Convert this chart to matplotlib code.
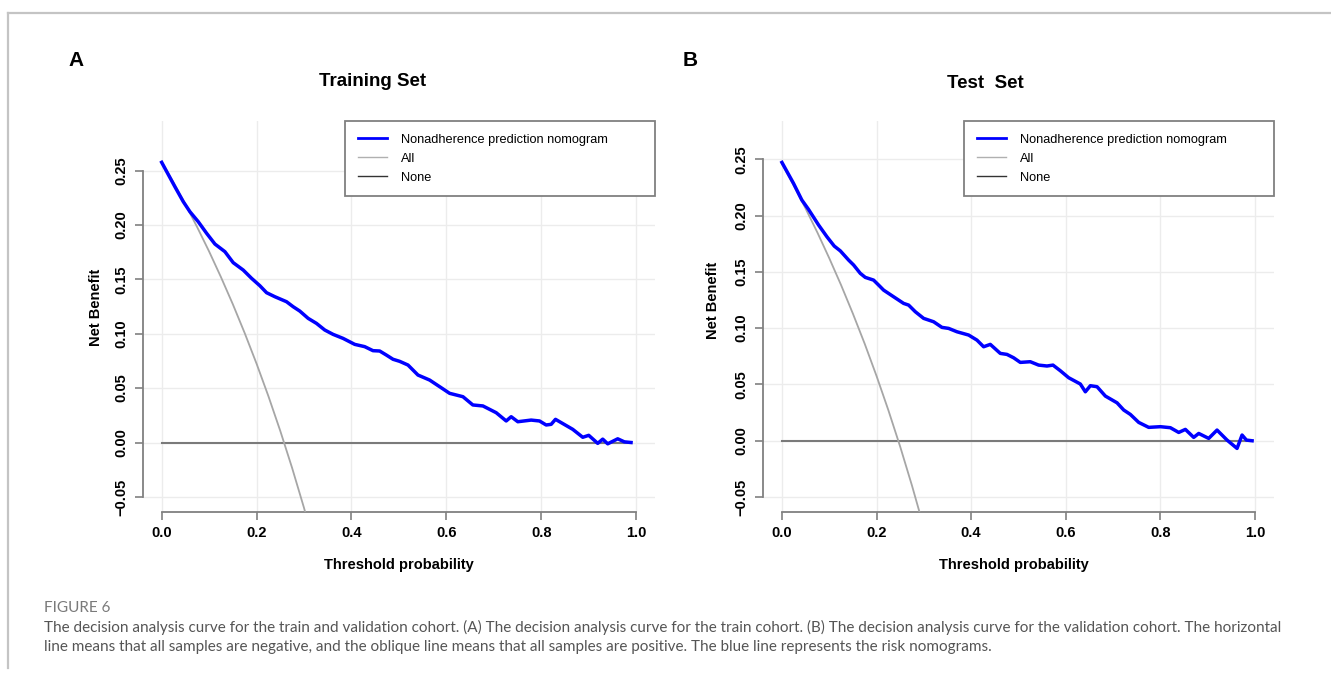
import matplotlib
matplotlib.use('Agg')
import matplotlib.pyplot as plt
from matplotlib.lines import Line2D
import numpy as np

# ---------------- data ----------------
x_ticks = [0.0, 0.2, 0.4, 0.6, 0.8, 1.0]
y_ticks = [-0.05, 0.00, 0.05, 0.10, 0.15, 0.20, 0.25]

all_x = [0.0, 0.025, 0.05, 0.075, 0.1, 0.125, 0.15, 0.175, 0.2, 0.225,
         0.25, 0.275, 0.3, 0.325]
train_all = [0.258, 0.2390, 0.2190, 0.1978, 0.1756, 0.1520, 0.1271, 0.1006,
             0.0725, 0.0426, 0.0107, -0.0234, -0.0600, -0.0993]
test_all = [0.246, 0.2267, 0.2063, 0.1849, 0.1622, 0.1383, 0.1129, 0.0861,
            0.0575, 0.0271, -0.0053, -0.0400, -0.0771, -0.1170]

none_x = [0.0, 0.99]
none_nb = [0.0, 0.0]

train_x = [0.0, 0.028, 0.0456, 0.0596, 0.077, 0.0947, 0.1123, 0.1333, 0.1508,
           0.1719, 0.1895, 0.207, 0.2211, 0.2386, 0.2632, 0.2772, 0.2912,
           0.3088, 0.3263, 0.3438, 0.3613, 0.3824, 0.407, 0.428, 0.4455,
           0.4596, 0.4736, 0.4877, 0.5017, 0.5193, 0.5403, 0.5649, 0.586,
           0.607, 0.6351, 0.656, 0.6772, 0.7052, 0.7263, 0.7368, 0.7508,
           0.7789, 0.7965, 0.8105, 0.8211, 0.8302, 0.8666, 0.8877, 0.9003,
           0.9193, 0.9298, 0.9403, 0.9614, 0.9754, 0.9895]
train_nb = [0.2575, 0.235, 0.2213, 0.2121, 0.203, 0.1923, 0.1824, 0.1754,
            0.1653, 0.1585, 0.1509, 0.1441, 0.1377, 0.134, 0.1294, 0.1248,
            0.1208, 0.1141, 0.1095, 0.1034, 0.0994, 0.0957, 0.0902, 0.0881,
            0.0844, 0.0841, 0.0804, 0.0765, 0.0746, 0.0712, 0.062, 0.0574,
            0.0513, 0.0452, 0.0421, 0.0345, 0.0336, 0.0274, 0.0198, 0.0237,
            0.0191, 0.0206, 0.0198, 0.0161, 0.0167, 0.0213, 0.0121, 0.0048,
            0.0066, -0.0008, 0.0031, -0.0012, 0.0034, 0.0006, 0.0]

test_x = [0.0, 0.0245, 0.0421, 0.0562, 0.0775, 0.0951, 0.1106, 0.1233,
          0.1409, 0.1515, 0.1656, 0.1762, 0.1937, 0.2043, 0.2149, 0.236,
          0.2572, 0.2678, 0.2819, 0.2995, 0.3206, 0.3382, 0.3523, 0.37,
          0.3946, 0.4122, 0.4263, 0.4404, 0.4615, 0.4756, 0.4897, 0.5038,
          0.5249, 0.5426, 0.5602, 0.5729, 0.5884, 0.606, 0.6307, 0.6413,
          0.6519, 0.666, 0.6836, 0.7083, 0.7224, 0.7364, 0.7541, 0.7752,
          0.7999, 0.821, 0.8386, 0.8527, 0.8703, 0.8809, 0.902, 0.9196,
          0.9408, 0.9619, 0.9725, 0.9817, 0.9937]
test_nb = [0.2472, 0.2286, 0.2138, 0.2055, 0.1916, 0.1812, 0.1729, 0.1687,
           0.1605, 0.1561, 0.1487, 0.1451, 0.1427, 0.1383, 0.1338, 0.1279,
           0.122, 0.1205, 0.1146, 0.1087, 0.1057, 0.1007, 0.0998, 0.0968,
           0.0939, 0.0894, 0.0835, 0.0856, 0.0776, 0.0767, 0.0737, 0.0696,
           0.0702, 0.0672, 0.0664, 0.0672, 0.0622, 0.056, 0.0504, 0.0435,
           0.0489, 0.048, 0.0397, 0.0337, 0.0273, 0.0234, 0.0163, 0.0119,
           0.0125, 0.0116, 0.0074, 0.0101, 0.003, 0.0065, 0.0021, 0.0095,
           0.0006, -0.0068, 0.0051, 0.0006, 0.0]

legend_labels = ['Nonadherence prediction nomogram', 'All', 'None']
panel_titles = ['Training Set', 'Test  Set']
panel_letters = ['A', 'B']
x_label = 'Threshold probability'
y_label = 'Net Benefit'
caption_head = 'FIGURE 6'
caption_lines = [
    'The decision analysis curve for the train and validation cohort. (A) The decision analysis curve for the train cohort. '
    '(B) The decision analysis curve for the validation cohort. The horizontal',
    'line means that all samples are negative, and the oblique line means that all samples are positive. '
    'The blue line represents the risk nomograms.',
]

# ---------------- figure ----------------
W, H = 1331, 677
fig = plt.figure(figsize=(W / 100, H / 100), dpi=100)
fig.patch.set_facecolor('white')

BOLD = dict(family='Liberation Sans', weight='bold')


def px_rect(l, t, r, b):
    return [l / W, 1 - b / H, (r - l) / W, (b - t) / H]


def fx(x):
    return x / W


def fy(y):
    return 1 - y / H


panels = [
    dict(rect=(142.7, 121, 655, 511.7), ylim=(-0.0636, 0.2955), x=train_x, nb=train_nb,
         all_nb=train_all, title=(373, 82), letter=(76, 61), ylab=(96, 307), xlab=(399, 565)),
    dict(rect=(763, 121, 1274, 511.7), ylim=(-0.0630, 0.2840), x=test_x, nb=test_nb,
         all_nb=test_all, title=(985, 83), letter=(690, 61), ylab=(713, 300), xlab=(1014, 565)),
]

AX_GRAY = '#808080'

for i, p in enumerate(panels):
    ax = fig.add_axes(px_rect(*p['rect']))
    ax.set_xlim(-0.04, 1.04)
    ax.set_ylim(*p['ylim'])
    ax.set_xticks(x_ticks)
    ax.set_yticks(y_ticks)
    ax.set_xticklabels([f'{v:.1f}' for v in x_ticks])
    ax.set_yticklabels([f'{v:.2f}'.replace('-', '\u2212') for v in y_ticks])
    ax.grid(True, color='#ececec', lw=1.0)
    ax.set_axisbelow(True)
    for s in ['top', 'right']:
        ax.spines[s].set_visible(False)
    for s in ['left', 'bottom']:
        ax.spines[s].set_color(AX_GRAY)
        ax.spines[s].set_linewidth(1.3)
    ax.spines['left'].set_bounds(y_ticks[0], y_ticks[-1])
    ax.spines['bottom'].set_bounds(x_ticks[0], x_ticks[-1])
    ax.tick_params(direction='out', length=5.5, width=1.2, color=AX_GRAY,
                   labelsize=10.5, labelcolor='black')
    ax.tick_params(axis='x', pad=5)
    ax.tick_params(axis='y', pad=5, labelrotation=90)
    for lab in ax.get_yticklabels():
        lab.set_fontfamily('Liberation Sans')
        lab.set_fontweight('bold')
        lab.set_va('center')
    for lab in ax.get_xticklabels():
        lab.set_fontfamily('Liberation Sans')
        lab.set_fontweight('bold')

    ax.plot(none_x, none_nb, color='#7a7a7a', lw=1.5, zorder=2)
    ax.plot(all_x, p['all_nb'], color='#a6a6a6', lw=1.3, zorder=3)
    ax.plot(p['x'], p['nb'], color='#0000ff', lw=2.5, zorder=4, solid_joinstyle='round')

    handles = [Line2D([], [], color='#0000ff', lw=2.0),
               Line2D([], [], color='#b0b0b0', lw=1.0),
               Line2D([], [], color='#333333', lw=1.0)]
    l, t, r, b = p['rect']
    aw, ah = r - l, b - t
    x0 = ((l + (202.3 if i == 0 else 201)) - l) / aw
    lw_ = 1.0 - x0
    lh = 74 / ah
    leg = ax.legend(handles, legend_labels, loc='upper left',
                    bbox_to_anchor=(x0, 1 - lh, lw_, lh), mode='expand',
                    borderaxespad=0, frameon=True, fancybox=False,
                    edgecolor=AX_GRAY, framealpha=1, borderpad=0.98,
                    labelspacing=0.56, handlelength=2.3, handletextpad=1.1,
                    prop=dict(family='Liberation Sans', size=9.2))
    leg.get_frame().set_linewidth(1.3)

    fig.text(fx(p['title'][0]), fy(p['title'][1]), panel_titles[i], ha='center', va='center',
             fontsize=13.5, **BOLD)
    fig.text(fx(p['letter'][0]), fy(p['letter'][1]), panel_letters[i], ha='center', va='center',
             fontsize=15, **BOLD)
    fig.text(fx(p['ylab'][0]), fy(p['ylab'][1]), y_label, ha='center', va='center',
             rotation=90, fontsize=10.5, **BOLD)
    fig.text(fx(p['xlab'][0]), fy(p['xlab'][1]), x_label, ha='center', va='center',
             fontsize=10.5, **BOLD)

# frame lines of the publication figure box
fig.add_artist(Line2D([fx(8), 1.0], [fy(13), fy(13)], color='#c4c4c4', lw=1.6))
fig.add_artist(Line2D([fx(8), fx(8)], [fy(13), fy(668)], color='#c4c4c4', lw=1.6))

# caption
CAP_FONT = 'Lato'
head = fig.text(fx(44), fy(608), caption_head, ha='left', va='center', fontsize=10,
                family=CAP_FONT, color='#7a7a7a')
t1 = fig.text(fx(44), fy(627), caption_lines[0], ha='left', va='center', fontsize=10,
              family=CAP_FONT, color='#555555')
t2 = fig.text(fx(44), fy(646.5), caption_lines[1], ha='left', va='center', fontsize=10,
              family=CAP_FONT, color='#555555')
fig.canvas.draw()
rend = fig.canvas.get_renderer()
w1 = t1.get_window_extent(rend).width
scale = (1285 - 44) / w1
for t in (head, t1, t2):
    t.set_fontsize(10 * scale)

fig.savefig('out.png', dpi=100, facecolor='white')
